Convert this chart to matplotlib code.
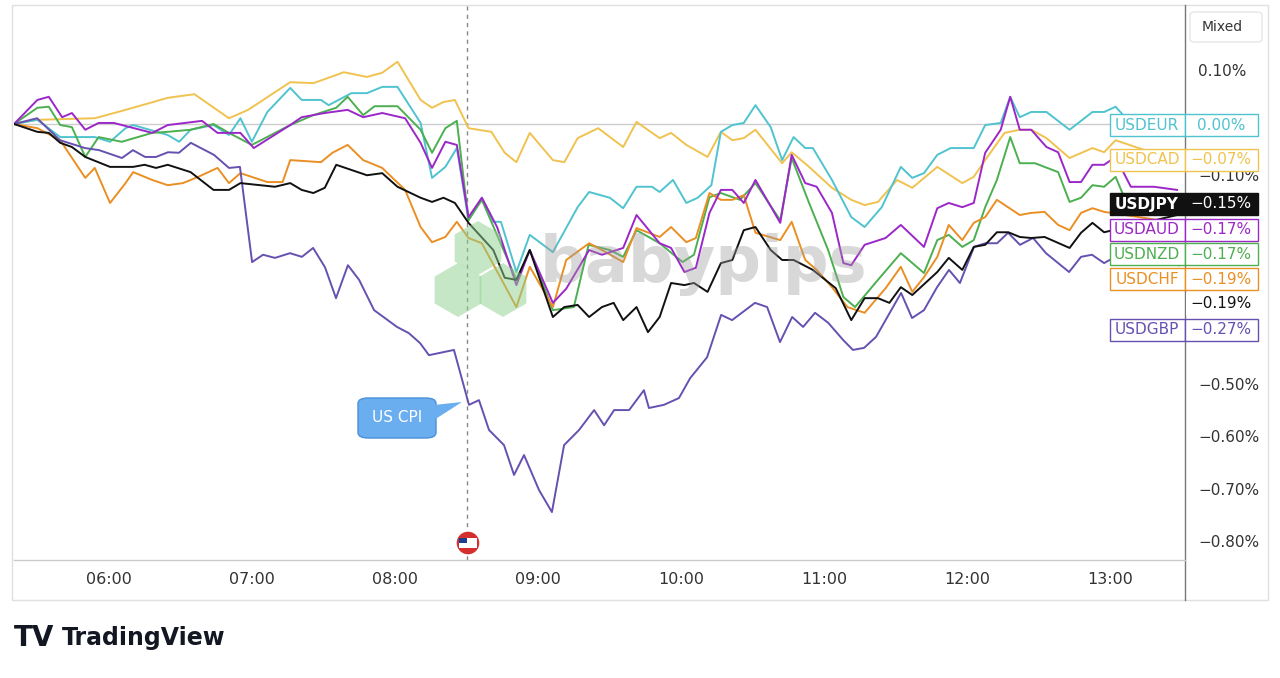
import matplotlib
matplotlib.use("Agg")
import matplotlib.pyplot as plt
from matplotlib.patches import FancyBboxPatch, Rectangle, RegularPolygon, Circle

# times are minutes since midnight; values are % change
cad_t = [320,329.8,353.9,366.8,384.5,395.7,410.2,418.2,435.9,445.6,458.4,468.1,474.5,480.9,490.6,495.4,500.2,505,510.7,520.3,525.9,530.8,536.4,546.1,550.9,556.5,
         565.1,575.6,581.2,590.9,595.7,602.1,611,616.6,621.4,626.2,631.1,642.3,646.3,653.6,663.2,671.3,676.9,682.5,690.5,696.9,707.4,717.9,722.7,727.5,735.6,742,746.8,753.2,762.9,772.5,777.4,782.2,808]
usdcad = [0,.008,.011,.027,.050,.057,.011,.027,.080,.078,.099,.090,.098,.119,.046,.031,.042,.046,-.008,-.015,-.055,-.073,-.017,-.069,-.073,-.027,
          -.008,-.044,.004,-.027,-.017,-.040,-.063,-.015,-.031,-.027,-.011,-.075,-.054,-.082,-.122,-.145,-.155,-.149,-.107,-.122,-.082,-.113,-.101,-.069,-.017,-.011,-.011,-.027,-.065,-.046,-.054,-.031,-.071]

eur_t = [320,329.8,339.4,353.9,360.3,366.8,370,384.5,389.3,394.1,403.7,410.2,415,419.8,426.3,435.9,440.7,448.8,452,461.6,468.1,474.5,480.9,490.6,495.4,501,505.8,510.7,516.3,521.1,524.3,530.8,536.4,546.1,556.5,561.3,
         570,575.6,581.2,587.7,590.9,596.5,602.1,606.9,612.6,616.6,621.4,626.2,631.1,637.5,642.3,647.1,652,655.2,663.2,671.3,676.9,684.1,692.1,696.9,701.8,707.4,713,722.7,727.5,734,738,742,746.8,753.2,762.9,772.5,777.4,782.2,785.4,808]
usdeur = [0,.008,-.025,-.025,-.034,-.008,-.002,-.021,-.034,-.011,-.002,-.021,.011,-.034,.023,.069,.046,.046,.036,.059,.059,.071,.071,.002,-.103,-.082,-.046,-.184,-.141,-.187,-.187,-.283,-.212,-.245,-.159,-.130,
          -.141,-.161,-.120,-.120,-.130,-.107,-.151,-.141,-.117,-.015,-.002,.002,.036,-.006,-.069,-.025,-.046,-.046,-.107,-.178,-.197,-.159,-.082,-.103,-.094,-.059,-.046,-.046,-.002,.002,.052,.013,.023,.023,-.011,.023,.023,.033,.017,0]

aud_t = [320,329.8,334.6,340.2,344.3,349.9,355.5,361.9,378,384.5,398.9,405.4,415,420.6,435.9,440.7,450.4,460,466.5,474.5,484.1,490.6,495.4,501,505.8,510.7,516.3,522.7,530.8,536.4,546.1,551.7,561.3,
         566.7,575.6,581.2,590.9,595.7,601.3,606.1,611.8,616.6,621.4,626.2,631.1,641.5,646.3,652,656.8,663.2,668,671.3,676.9,685.7,692.1,701.8,707.4,712.2,717.9,722.7,727.5,734,738,742,746.8,753.2,758.1,762.9,767.7,772.5,777.4,782.2,788.6,798.3,808]
usdaud = [0,.046,.052,.013,.021,-.011,.002,.002,-.017,-.002,.006,-.017,-.017,-.046,-.002,.013,.021,.027,.013,.021,.011,-.036,-.084,-.034,-.040,-.178,-.141,-.197,-.308,-.241,-.342,-.315,-.241,
          -.250,-.237,-.174,-.228,-.237,-.283,-.275,-.170,-.126,-.126,-.151,-.107,-.189,-.059,-.113,-.120,-.170,-.266,-.270,-.231,-.218,-.193,-.235,-.161,-.151,-.159,-.151,-.055,-.011,.052,-.011,-.011,-.044,-.054,-.111,-.111,-.078,-.078,-.063,-.120,-.120,-.126]

nzd_t = [320,329.8,334.6,339.4,344.3,349.9,355.5,365.2,378,384.5,394.1,403.7,410.2,419.8,435.9,445.6,455.2,460,466.5,471.3,480.9,490.6,495.4,501,505.8,510.7,516.3,530.8,536.4,546.1,554.9,
         561.1,570,575.6,581.2,590.9,600.5,605.3,611.8,616.6,624.6,631.1,641.5,646.3,653.6,661.6,668,672.9,682.5,692.1,701.8,707.4,712.2,717.9,722.7,727.5,732.4,738,742,748.4,758.1,762.9,767.7,772.5,777.4,782.2,788.6,808]
usdnzd = [0,.031,.033,-.002,-.006,-.063,-.025,-.034,-.017,-.015,-.011,0,-.017,-.040,-.002,.017,.031,.052,.017,.034,.034,-.011,-.055,-.008,.006,-.184,-.145,-.298,-.241,-.356,-.350,
          -.231,-.241,-.254,-.203,-.228,-.264,-.250,-.140,-.132,-.145,-.113,-.184,-.065,-.151,-.241,-.331,-.350,-.298,-.247,-.285,-.222,-.212,-.235,-.222,-.159,-.107,-.025,-.075,-.075,-.092,-.149,-.141,-.117,-.120,-.101,-.170,-.170]

chf_t = [320,329.8,339.4,349.9,353.9,360.3,366.8,370,378,384.5,390.9,397.3,405.4,410.2,415,426.3,432.7,435.9,448.8,453.6,460,466.5,474.5,484.1,490.6,495.4,501,505.8,510.7,516.3,530.8,536.4,546.1,551.7,561.3,
         566.7,575.6,581.2,590.9,595.7,602.1,606.1,611.8,616.6,621.4,626.2,631.1,641.5,646.3,652,656.8,663.2,669.7,676.9,685.7,692.1,696.9,701.8,707.4,712.2,717.9,722.7,727.5,732.4,742,746.8,752.4,758.1,762.9,767.7,772.5,777.4,808]
usdchf = [0,-.008,-.031,-.103,-.084,-.151,-.113,-.092,-.107,-.117,-.113,-.101,-.084,-.113,-.094,-.111,-.111,-.069,-.073,-.055,-.040,-.069,-.084,-.126,-.197,-.226,-.216,-.187,-.218,-.228,-.350,-.273,-.350,-.260,-.228,
          -.241,-.264,-.199,-.216,-.197,-.226,-.218,-.132,-.145,-.145,-.136,-.208,-.222,-.187,-.260,-.279,-.312,-.350,-.361,-.314,-.273,-.321,-.293,-.254,-.193,-.222,-.189,-.178,-.145,-.174,-.170,-.168,-.193,-.203,-.170,-.161,-.168,-.189]

jpy_t = [320,329.8,334.6,339.4,344.3,349.9,360.3,370,374.8,379.6,384.5,394.1,403.7,410.2,415,429.5,435.9,440.7,445.6,450.4,455.2,468.1,474.5,480.9,490.6,495.4,500.2,505,510.7,521.1,525.9,530.8,536.4,546.1,550.9,556.5,561.3,
         566.7,571.6,575.6,581.2,586,590.9,595.7,601.3,605.3,611,616.6,621.4,626.2,631.1,637.5,642.3,647.1,655.2,664.8,671.3,676.9,682.5,687.3,692.1,696.9,707.4,712.2,717.9,722.7,727.5,732.4,737.2,742,746.8,752.4,762.9,767.7,772.5,777.4,808]
usdjpy = [0,-.015,-.017,-.036,-.044,-.063,-.082,-.082,-.078,-.084,-.078,-.092,-.126,-.126,-.113,-.120,-.113,-.126,-.132,-.122,-.078,-.098,-.094,-.120,-.141,-.149,-.141,-.151,-.189,-.241,-.294,-.298,-.241,-.369,-.350,-.346,-.369,
          -.350,-.342,-.375,-.350,-.398,-.369,-.304,-.308,-.304,-.321,-.266,-.260,-.203,-.197,-.241,-.260,-.260,-.279,-.314,-.375,-.333,-.333,-.342,-.312,-.327,-.283,-.256,-.279,-.235,-.231,-.207,-.207,-.216,-.218,-.216,-.237,-.208,-.189,-.207,-.174]

gbp_t = [320,329.7,339.3,349.8,355.7,365.3,369.9,375,379.6,384.6,389.2,394.2,403.9,410.2,414.8,419.9,424.5,429.5,435.8,440.8,
         445.5,450.5,455.1,460.1,464.8,471.1,480.7,485.7,490.4,
         494.1,504.6,510.9,515.1,519.3,525.6,529.8,534,540.3,545.7,550.8,557.1,563.4,567.6,571.8,578.1,584.3,586.4,592.7,599,
         603.7,610.8,616.7,621.3,630.9,636,641.4,646.5,651.1,656.1,661.6,667.9,672,676.7,681.7,692.2,696.8,701.8,707.3,712.3,
         716.9,722.8,727.5,732.5,737.1,742.1,747.6,753,762.7,767.7,772.3,777.4,782,808.8]
usdgbp = [0,.011,-.031,-.046,-.050,-.065,-.050,-.063,-.063,-.054,-.055,-.036,-.059,-.084,-.082,-.264,-.250,-.256,-.247,-.254,
          -.237,-.274,-.333,-.270,-.298,-.356,-.388,-.400,-.419,
          -.442,-.432,-.537,-.528,-.585,-.614,-.671,-.633,-.700,-.742,-.614,-.585,-.547,-.576,-.547,-.547,-.509,-.543,-.537,-.524,
          -.486,-.446,-.365,-.375,-.342,-.350,-.417,-.369,-.388,-.361,-.380,-.413,-.432,-.428,-.407,-.323,-.371,-.356,-.312,-.279,
          -.304,-.235,-.228,-.228,-.208,-.231,-.218,-.247,-.283,-.254,-.250,-.266,-.254,-.270]

series = [("USDCAD", cad_t, usdcad, "#f0c24f"), ("USDEUR", eur_t, usdeur, "#4fc3cf"),
          ("USDNZD", nzd_t, usdnzd, "#4caf50"), ("USDCHF", chf_t, usdchf, "#ea8f23"),
          ("USDAUD", aud_t, usdaud, "#9c27c8"), ("USDGBP", gbp_t, usdgbp, "#6650b0"),
          ("USDJPY", jpy_t, usdjpy, "#111111")]

tick_minutes = [360, 420, 480, 540, 600, 660, 720, 780]
tick_labels = ["06:00", "07:00", "08:00", "09:00", "10:00", "11:00", "12:00", "13:00"]
ytick_vals = [0.10, -0.10, -0.50, -0.60, -0.70, -0.80]
ytick_labels = ["0.10%", "\u22120.10%", "\u22120.50%", "\u22120.60%", "\u22120.70%", "\u22120.80%"]
cpi_minute = 510

labels = [("USDEUR", "0.00%", 125, "#4fc3cf", "box"), ("USDCAD", "\u22120.07%", 160, "#f0c24f", "box"),
          ("USDJPY", "\u22120.15%", 204, "#111111", "fill"), ("USDAUD", "\u22120.17%", 230, "#9c27c8", "box"),
          ("USDNZD", "\u22120.17%", 254, "#4caf50", "box"), ("USDCHF", "\u22120.19%", 279, "#ea8f23", "box"),
          ("", "\u22120.19%", 304, "#111111", "plain"), ("USDGBP", "\u22120.27%", 330, "#6650b0", "box")]

W, H = 1280, 678
fig = plt.figure(figsize=(W/100, H/100), dpi=100)
fig.patch.set_facecolor("white")
L, R, T, B = 14, 1185, 5, 560
ax = fig.add_axes([L/W, 1-B/H, (R-L)/W, (B-T)/H])
ax.set_xlim(320, 320 + (R-L)/143*60)
ax.set_ylim(-(B-124)/523, (124-T)/523)
for s in ax.spines.values():
    s.set_visible(False)
ax.set_xticks([]); ax.set_yticks([])

ax.axhline(0, color="#cccccc", lw=1, zorder=1)
ax.axvline(cpi_minute, color="#888888", lw=1, ls=(0, (3, 3)), zorder=1)

fig.text(703/W, 1-265/H, "babypips", fontsize=46, fontweight="bold", color="#9e9e9e", alpha=0.4,
         ha="center", va="center", zorder=2)
for (cxp, cyp) in [(478, 248), (458, 290), (503, 290)]:
    fig.patches.append(RegularPolygon((cxp, H-cyp), 6, radius=27, facecolor="#8fd18f", edgecolor="none",
                                      alpha=0.5, transform=None, zorder=2))

for name, xs, vals, col in series:
    ax.plot(xs, vals, color=col, lw=1.4, zorder=3)

def figline(x0, y0, x1, y1, **kw):
    fig.add_artist(plt.Line2D([x0/W, x1/W], [1-y0/H, 1-y1/H], transform=fig.transFigure, **kw))
figline(R, T, R, 600, color="#777777", lw=1)
figline(L, B, R, B, color="#cccccc", lw=1)
fig.patches.append(Rectangle((12/W, 1-600/H), (1268-12)/W, (600-5)/H, transform=fig.transFigure,
                             fill=False, edgecolor="#e0e0e0", lw=1))
for v, lab in zip(ytick_vals, ytick_labels):
    y = 124 - v*523
    fig.text(1198/W, 1-y/H, lab, ha="left", va="center", fontsize=11, color="#333333")
for m, lab in zip(tick_minutes, tick_labels):
    x = L + (m-320)/60*143
    fig.text(x/W, 1-580/H, lab, ha="center", va="center", fontsize=11.5, color="#333333")

fig.patches.append(FancyBboxPatch((1190/W, 1-42/H), 72/W, 30/H, boxstyle="round,pad=0,rounding_size=0.004",
                                  transform=fig.transFigure, facecolor="white", edgecolor="#e6e6e6", lw=1))
fig.text(1222/W, 1-27/H, "Mixed", ha="center", va="center", fontsize=10, color="#333333")

for name, val, y, col, style in labels:
    if style == "box":
        fig.patches.append(Rectangle((1110/W, 1-(y+11)/H), 75/W, 22/H, transform=fig.transFigure,
                                     facecolor="white", edgecolor=col, lw=1, zorder=5))
        fig.patches.append(Rectangle((1185/W, 1-(y+11)/H), 73/W, 22/H, transform=fig.transFigure,
                                     facecolor="white", edgecolor=col, lw=1, zorder=5))
        fig.text(1147/W, 1-y/H, name, ha="center", va="center", fontsize=11, color=col, zorder=6)
        fig.text(1221/W, 1-y/H, val, ha="center", va="center", fontsize=11, color=col, zorder=6)
    elif style == "fill":
        fig.patches.append(Rectangle((1110/W, 1-(y+11)/H), 148/W, 22/H, transform=fig.transFigure,
                                     facecolor=col, edgecolor=col, lw=1, zorder=5))
        fig.text(1147/W, 1-y/H, name, ha="center", va="center", fontsize=11, color="white", fontweight="bold", zorder=6)
        fig.text(1221/W, 1-y/H, val, ha="center", va="center", fontsize=11, color="white", zorder=6)
    else:
        fig.patches.append(Rectangle((1186/W, 1-(y+11)/H), 72/W, 22/H, transform=fig.transFigure,
                                     facecolor="white", edgecolor="none", zorder=5))
        fig.text(1221/W, 1-y/H, val, ha="center", va="center", fontsize=11, color=col, zorder=6)

fig.patches.append(FancyBboxPatch((358/W, 1-438/H), 78/W, 40/H, boxstyle="round,pad=0,rounding_size=0.008",
                                  transform=fig.transFigure, facecolor="#6aaef0", edgecolor="#4a90d9", lw=1, zorder=6))
fig.patches.append(plt.Polygon([(434/W, 1-405/H), (462/W, 1-402/H), (434/W, 1-420/H)], closed=True,
                               transform=fig.transFigure, facecolor="#6aaef0", edgecolor="none", zorder=6))
fig.text(397/W, 1-418/H, "US CPI", ha="center", va="center", fontsize=11, color="white", zorder=7)

fig.patches.append(Circle((468, H-543), 12, transform=None, facecolor="#d32f2f", edgecolor="white", lw=1, zorder=6))
fig.patches.append(Rectangle((459, H-548), 18, 10, transform=None, facecolor="white", edgecolor="none", zorder=7))
fig.patches.append(Rectangle((459, H-543), 8, 5, transform=None, facecolor="#1a3f8f", edgecolor="none", zorder=8))

fig.text(14/W, 1-638/H, "TV", fontsize=20, fontweight="bold", color="#131722", va="center", ha="left")
fig.text(62/W, 1-638/H, "TradingView", fontsize=17, fontweight="bold", color="#131722", va="center", ha="left")

fig.savefig("out.png", dpi=100)
